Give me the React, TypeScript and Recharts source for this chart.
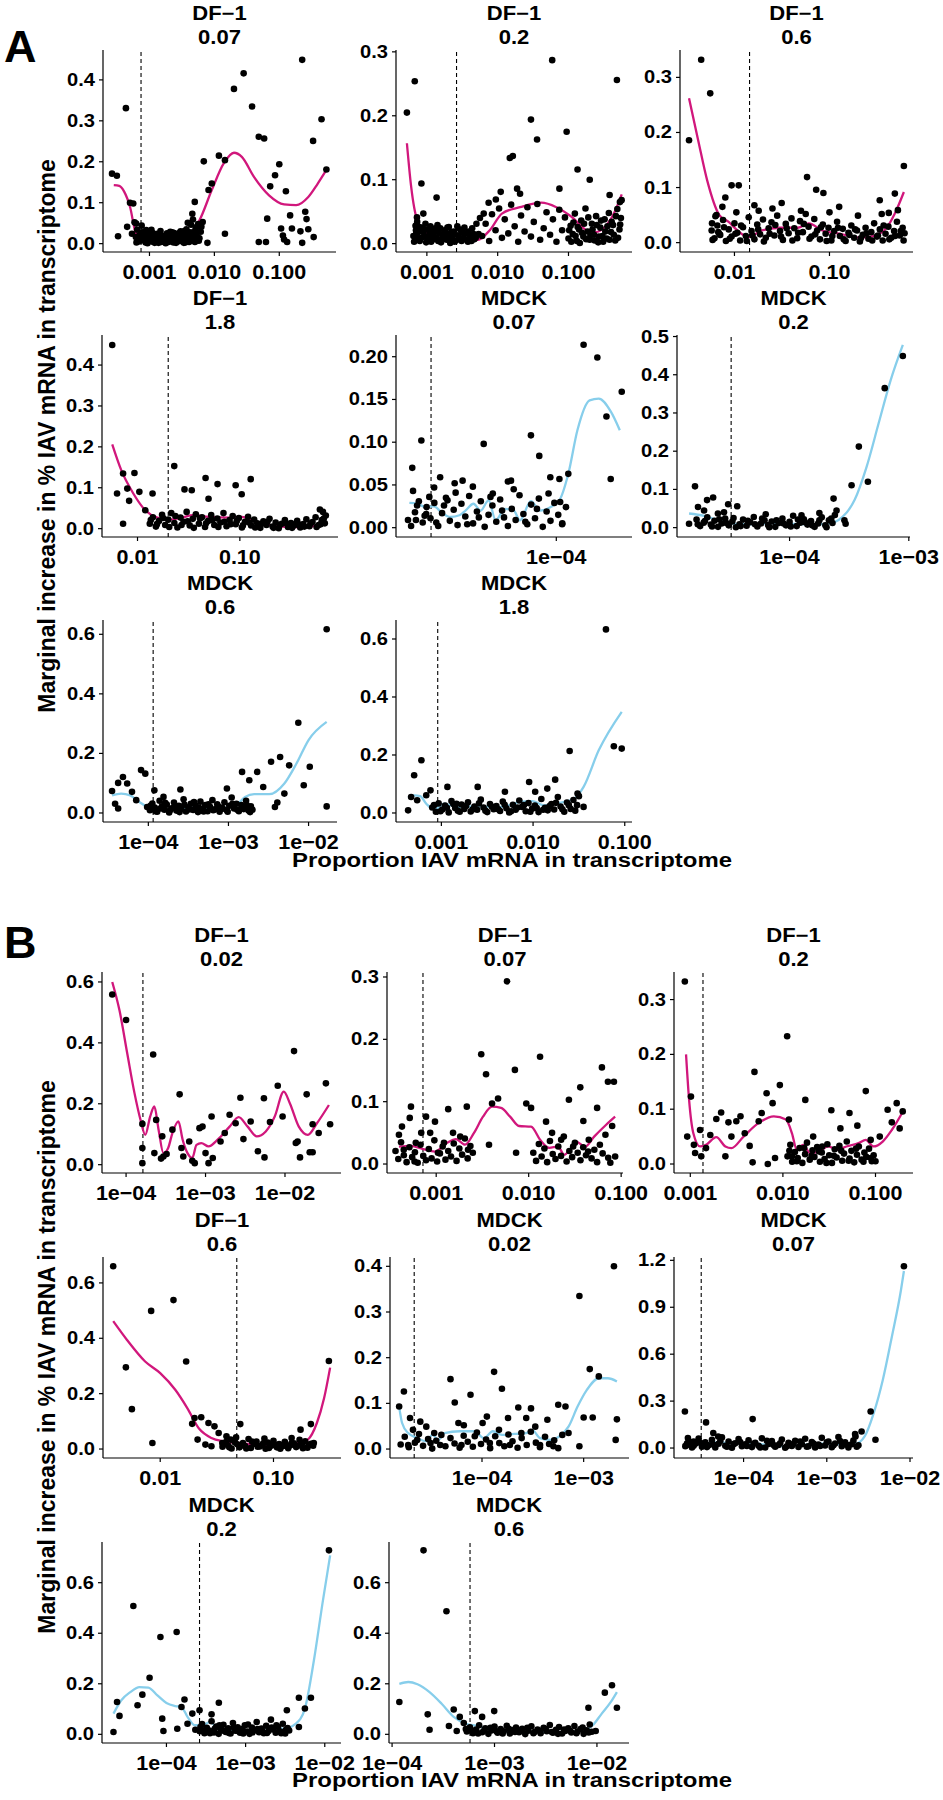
import React from 'react';
import { ComposedChart, Line, ReferenceLine, Scatter, XAxis, YAxis } from 'recharts';

document.body.style.margin = '0';

// x values are log10(proportion IAV mRNA), y values are marginal increase
const PINK = '#D1177C';
const BLUE = '#87CEEB';
const FONT = '"Liberation Sans", Arial, Helvetica, sans-serif';

const cellLines = ['DF\u22121', 'DF\u22121', 'DF\u22121', 'DF\u22121', 'MDCK', 'MDCK', 'MDCK', 'MDCK',
  'DF\u22121', 'DF\u22121', 'DF\u22121', 'DF\u22121', 'MDCK', 'MDCK', 'MDCK', 'MDCK'];
const mois = ['0.07', '0.2', '0.6', '1.8', '0.07', '0.2', '0.6', '1.8',
  '0.02', '0.07', '0.2', '0.6', '0.02', '0.07', '0.2', '0.6'];

const decTicks = [-3, -2, -1];
const decLabels = ['0.001', '0.010', '0.100'];
const twoDecTicks = [-2, -1];
const twoDecLabels = ['0.01', '0.10'];
const sciTicks = [-4, -3, -2];
const sciLabels = ['1e\u221204', '1e\u221203', '1e\u221202'];

const vlines = [-3.13, -2.581, -1.841, -1.7, -4.647, -4.49, -3.94, -3.04,
  -3.788, -3.143, -2.863, -1.324, -4.667, -4.509, -3.582, -3.239];

const xDomains: [number, number][] = [
  [-3.716, -0.126], [-3.436, -0.103], [-2.573, -0.121], [-2.347, -0.041],
  [-4.828, -3.609], [-4.944, -2.99], [-4.566, -1.645], [-3.495, -0.921],
  [-4.303, -1.295], [-3.532, -0.98], [-3.176, -0.595], [-2.505, -0.404],
  [-4.905, -2.554], [-4.836, -1.964], [-4.814, -1.795], [-4.03, -1.687],
];
const yDomains: [number, number][] = [
  [-0.0204, 0.473], [-0.0131, 0.3029], [-0.017, 0.3497], [-0.0204, 0.4735],
  [-0.0109, 0.2254], [-0.0245, 0.504], [-0.0303, 0.648], [-0.0311, 0.6655],
  [-0.0273, 0.6327], [-0.0144, 0.308], [-0.0164, 0.3503], [-0.0324, 0.6936],
  [-0.0196, 0.4204], [-0.0637, 1.2213], [-0.0343, 0.761], [-0.0343, 0.761],
];

const xTickSets = [decTicks, decTicks, twoDecTicks, twoDecTicks, [-4], [-4, -3], sciTicks, decTicks,
  sciTicks, decTicks, decTicks, twoDecTicks, [-4, -3], sciTicks, sciTicks, sciTicks];
const xLabelSets = [decLabels, decLabels, twoDecLabels, twoDecLabels, ['1e\u221204'], ['1e\u221204', '1e\u221203'], sciLabels, decLabels,
  sciLabels, decLabels, decLabels, twoDecLabels, ['1e\u221204', '1e\u221203'], sciLabels, sciLabels, sciLabels];

const y4 = [0, 0.1, 0.2, 0.3, 0.4];
const y3 = [0, 0.1, 0.2, 0.3];
const y6 = [0, 0.2, 0.4, 0.6];
const yTickSets = [y4, y3, y3, y4, [0, 0.05, 0.1, 0.15, 0.2], [0, 0.1, 0.2, 0.3, 0.4, 0.5], y6, y6,
  y6, y3, y3, y6, y4, [0, 0.3, 0.6, 0.9, 1.2], y6, y6];
const yLabelSets = [
  ['0.0', '0.1', '0.2', '0.3', '0.4'], ['0.0', '0.1', '0.2', '0.3'], ['0.0', '0.1', '0.2', '0.3'], ['0.0', '0.1', '0.2', '0.3', '0.4'],
  ['0.00', '0.05', '0.10', '0.15', '0.20'], ['0.0', '0.1', '0.2', '0.3', '0.4', '0.5'], ['0.0', '0.2', '0.4', '0.6'], ['0.0', '0.2', '0.4', '0.6'],
  ['0.0', '0.2', '0.4', '0.6'], ['0.0', '0.1', '0.2', '0.3'], ['0.0', '0.1', '0.2', '0.3'], ['0.0', '0.2', '0.4', '0.6'],
  ['0.0', '0.1', '0.2', '0.3', '0.4'], ['0.0', '0.3', '0.6', '0.9', '1.2'], ['0.0', '0.2', '0.4', '0.6'], ['0.0', '0.2', '0.4', '0.6'],
];

type P = [number, number];

const a1Points: P[] = [[-3.577,0.171],[-3.502,0.166],[-3.363,0.331],[-3.484,0.018],[-3.344,0.041],[-3.3,0.1],[-3.25,0.098],[-3.27,0.024],[-3.205,0.049],
  [-2.302,0.102],[-2.34,0.073],[-2.18,0.053],[-2.163,0.201],[-2.09,0.131],[-2.04,0.147],[-2.107,0.002],[-1.837,0.024],[-1.93,0.215],[-1.837,0.204],[-1.698,0.378],[-1.549,0.416],[-1.419,0.335],[-1.316,0.261],[-1.233,0.257],[-1.316,0.004],[-1.205,0.004],[-1.186,0.061],[-1.14,0.14],[-1.065,0.167],[-1.0,0.194],[-0.898,0.128],[-0.972,0.037],[-0.944,0.02],[-0.926,0.01],[-0.833,0.069],[-0.805,0.037],[-0.879,0.004],[-0.647,0.449],[-0.674,0.03],[-0.647,0.002],[-0.6,0.078],[-0.58,0.06],[-0.553,0.035],[-0.479,0.251],[-0.47,0.016],[-0.349,0.304],[-0.274,0.181],
  [-3.23,0.052],[-3.19,0.034],[-3.16,0.019],[-3.14,0.007],[-3.11,0.028],[-3.09,0.014],[-3.06,0.003],[-3.04,0.021],[-3.01,0.011],[-2.99,0.027],[-2.96,0.005],[-2.93,0.017],[-2.91,0.009],[-2.88,0.024],[-2.86,0.002],[-2.84,0.013],[-2.81,0.02],[-2.79,0.006],[-2.76,0.016],[-2.73,0.025],[-2.71,0.004],[-2.69,0.012],[-2.66,0.021],[-2.64,0.008],[-2.61,0.015],[-2.59,0.002],[-2.56,0.024],[-2.54,0.01],[-2.51,0.018],[-2.49,0.005],[-2.46,0.031],[-2.44,0.013],[-2.41,0.022],[-2.39,0.004],[-2.36,0.046],[-2.34,0.027],[-2.31,0.011],[-2.29,0.036],[-2.26,0.017],[-2.24,0.007],[-2.21,0.029],[-3.12,0.044],[-2.97,0.034],[-2.83,0.031],[-2.68,0.029],[-2.52,0.03],[-2.41,0.051],[-2.33,0.059],[-2.27,0.041],[-3.2,0.003],[-2.87,0.014],[-2.62,0.026],[-2.47,0.002],
  [-3.21,0.016],[-3.17,0.005],[-3.13,0.024],[-3.08,0.009],[-3.05,0.033],[-3.03,0.001],[-2.98,0.015],[-2.95,0.026],[-2.92,0.002],[-2.89,0.011],[-2.85,0.021],[-2.82,0.004],[-2.78,0.012],[-2.75,0.001],[-2.72,0.019],[-2.68,0.006],[-2.65,0.028],[-2.63,0.003],[-2.6,0.01],[-2.58,0.019],[-2.55,0.006],[-2.53,0.027],[-2.5,0.012],[-2.48,0.021],[-2.45,0.003],[-2.43,0.035],[-2.4,0.016],[-2.38,0.028],[-2.35,0.008],[-2.32,0.02],[-2.3,0.004],[-2.28,0.026],[-2.25,0.048],[-2.23,0.013],[-2.2,0.041]];
const a1Fit: P[] = [[-3.55,0.143],[-3.465,0.141],[-3.39,0.127],[-3.3,0.09],[-3.205,0.024],[-3.11,0.015],[-2.88,0.01],[-2.6,0.012],[-2.41,0.02],[-2.23,0.057],[-2.04,0.131],[-1.856,0.196],[-1.698,0.222],[-1.577,0.212],[-1.39,0.163],[-1.158,0.118],[-0.926,0.096],[-0.74,0.094],[-0.553,0.114],[-0.414,0.145],[-0.274,0.18]];

const a2Points: P[] = [[-3.282,0.205],[-3.171,0.254],[-3.077,0.094],[-2.863,0.072],[-3.137,0.034],[-3.154,0.021],[-3.137,0.008],[-3.05,0.047],
  [-2.197,0.047],[-2.128,0.064],[-2.026,0.069],[-1.957,0.081],[-1.829,0.134],[-1.786,0.137],[-1.726,0.086],[-1.684,0.078],[-1.53,0.194],[-1.444,0.163],[-1.23,0.287],[-1.128,0.086],[-1.026,0.175],[-0.872,0.116],[-0.7,0.1],[-0.316,0.256],[-0.419,0.076],[-0.274,0.065],
  [-3.19,0.012],[-3.16,0.028],[-3.12,0.018],[-3.1,0.004],[-3.07,0.025],[-3.04,0.011],[-3.02,0.031],[-2.99,0.007],[-2.96,0.019],[-2.94,0.003],[-2.91,0.014],[-2.88,0.024],[-2.86,0.009],[-2.83,0.017],[-2.8,0.002],[-2.78,0.013],[-2.75,0.021],[-2.72,0.006],[-2.7,0.015],[-2.67,0.001],[-2.64,0.011],[-2.62,0.019],[-2.59,0.005],[-2.56,0.013],[-2.53,0.022],[-2.51,0.004],[-2.48,0.009],[-2.45,0.016],[-2.42,0.003],[-2.39,0.012],[-2.36,0.024],[-2.33,0.007],[-2.3,0.031],[-2.27,0.015],[-2.25,0.04],[-3.14,0.041],[-3.0,0.022],[-2.85,0.029],[-2.69,0.026],
  [-3.18,0.003],[-3.15,0.016],[-3.11,0.026],[-3.08,0.009],[-3.05,0.018],[-3.01,0.002],[-2.97,0.013],[-2.95,0.027],[-2.92,0.006],[-2.89,0.019],[-2.84,0.004],[-2.81,0.024],[-2.77,0.008],[-2.74,0.012],[-2.71,0.025],[-2.68,0.009],[-2.65,0.018],[-2.61,0.003],[-2.57,0.027],[-2.54,0.008],[-2.5,0.017],[-2.47,0.025],[-2.44,0.006],[-2.41,0.019],[-2.37,0.004],[-2.34,0.015],[-2.31,0.009],
  [-2.22,0.012],[-2.17,0.031],[-2.12,0.004],[-2.08,0.046],[-2.03,0.021],[-1.98,0.055],[-1.94,0.009],[-1.9,0.038],[-1.85,0.016],[-1.81,0.061],[-1.76,0.027],[-1.71,0.003],[-1.67,0.044],[-1.62,0.019],[-1.58,0.057],[-1.53,0.011],[-1.49,0.034],[-1.44,0.062],[-1.4,0.006],[-1.35,0.024],[-1.31,0.049],[-1.26,0.014],[-1.22,0.038],[-1.17,0.003],[-1.13,0.053],[-1.09,0.021],[-1.05,0.041],
  [-1.0,0.008],[-0.97,0.028],[-0.94,0.015],[-0.91,0.047],[-0.88,0.004],[-0.85,0.022],[-0.82,0.036],[-0.79,0.011],[-0.76,0.055],[-0.73,0.019],[-0.7,0.006],[-0.67,0.031],[-0.64,0.014],[-0.61,0.043],[-0.58,0.002],[-0.55,0.025],[-0.52,0.012],[-0.49,0.038],[-0.46,0.008],[-0.43,0.048],[-0.4,0.018],[-0.37,0.029],[-0.34,0.005],[-0.31,0.054],[-0.28,0.022],[-0.26,0.04],[-0.25,0.068],
  [-0.99,0.021],[-0.96,0.003],[-0.93,0.033],[-0.9,0.012],[-0.87,0.026],[-0.84,0.001],[-0.81,0.017],[-0.78,0.031],[-0.75,0.007],[-0.72,0.041],[-0.69,0.013],[-0.66,0.022],[-0.63,0.005],[-0.6,0.029],[-0.57,0.011],[-0.54,0.036],[-0.51,0.003],[-0.48,0.019],[-0.45,0.027],[-0.42,0.006],[-0.39,0.034],[-0.36,0.014],[-0.33,0.043],[-0.3,0.009],[-0.27,0.03]];
const a2Fit: P[] = [[-3.282,0.157],[-3.222,0.089],[-3.137,0.037],[-3.0,0.016],[-2.79,0.008],[-2.538,0.005],[-2.282,0.006],[-2.111,0.021],[-1.94,0.047],[-1.684,0.057],[-1.385,0.064],[-1.171,0.057],[-0.957,0.042],[-0.744,0.021],[-0.615,0.018],[-0.487,0.026],[-0.359,0.047],[-0.248,0.077]];

const a3Points: P[] = [[-2.478,0.186],[-2.35,0.332],[-2.255,0.271],[-2.236,0.035],[-2.19,0.05],[-2.16,0.016],[-2.127,0.065],[-2.096,0.082],[-2.03,0.104],[-1.955,0.104],[-1.79,0.068],[-1.745,0.058],[-1.503,0.072],[-1.236,0.119],[-1.14,0.096],[-1.064,0.09],[-0.898,0.065],[-0.471,0.077],[-0.376,0.054],[-0.312,0.089],[-0.28,0.059],[-0.217,0.139],
  [-2.24,0.022],[-2.21,0.008],[-2.18,0.031],[-2.15,0.014],[-2.12,0.041],[-2.09,0.003],[-2.06,0.024],[-2.03,0.011],[-2.0,0.035],[-1.97,0.018],[-1.94,0.004],[-1.91,0.028],[-1.88,0.012],[-1.85,0.046],[-1.82,0.021],[-1.79,0.006],[-1.76,0.033],[-1.73,0.015],[-1.7,0.042],[-1.67,0.009],[-1.64,0.026],[-1.61,0.037],[-1.58,0.013],[-1.55,0.049],[-1.52,0.021],[-1.49,0.005],[-1.46,0.034],[-1.43,0.017],[-1.4,0.044],[-1.37,0.026],[-1.34,0.008],[-1.31,0.039],[-1.28,0.019],[-1.25,0.052],[-1.22,0.029],[-1.19,0.011],[-1.16,0.043],[-1.13,0.022],[-1.1,0.006],[-1.07,0.033],[-1.04,0.016],[-1.01,0.027],[-0.98,0.004],[-0.95,0.021],[-0.92,0.038],[-0.89,0.012],[-0.86,0.025],[-0.83,0.003],[-0.8,0.018],[-0.77,0.031],[-0.74,0.009],[-0.71,0.022],[-0.68,0.002],[-0.65,0.014],[-0.62,0.027],[-0.59,0.007],[-0.56,0.019],[-0.53,0.035],[-0.5,0.011],[-0.47,0.024],[-0.44,0.004],[-0.41,0.016],[-0.38,0.029],[-0.35,0.009],[-0.32,0.021],[-0.29,0.038],[-0.26,0.013],[-0.23,0.027],[-0.21,0.017],[-2.2,0.048],[-1.98,0.055],[-1.6,0.062],[-1.3,0.058],[-1.0,0.055],[-0.7,0.049],[-0.45,0.052],
  [-2.23,0.005],[-2.17,0.019],[-2.11,0.028],[-2.05,0.007],[-1.99,0.016],[-1.93,0.031],[-1.87,0.003],[-1.81,0.013],[-1.75,0.024],[-1.69,0.002],[-1.63,0.016],[-1.57,0.032],[-1.51,0.011],[-1.45,0.026],[-1.39,0.004],[-1.33,0.018],[-1.27,0.034],[-1.21,0.007],[-1.15,0.015],[-1.09,0.028],[-1.03,0.003],[-0.97,0.012],[-0.91,0.027],[-0.85,0.006],[-0.79,0.014],[-0.73,0.024],[-0.67,0.008],[-0.61,0.017],[-0.55,0.004],[-0.49,0.013],[-0.43,0.031],[-0.37,0.006],[-0.31,0.012],[-0.25,0.021],[-0.22,0.004]];
const a3Fit: P[] = [[-2.478,0.262],[-2.382,0.186],[-2.287,0.113],[-2.159,0.05],[-2.064,0.038],[-1.968,0.022],[-1.854,0.01],[-1.713,0.022],[-1.522,0.027],[-1.331,0.027],[-1.217,0.035],[-1.076,0.022],[-0.885,0.016],[-0.694,0.009],[-0.535,0.012],[-0.408,0.025],[-0.312,0.053],[-0.217,0.092]];

const a4Points: P[] = [[-2.247,0.449],[-2.2,0.086],[-2.141,0.135],[-2.141,0.012],[-2.1,0.098],[-2.082,0.068],[-2.03,0.136],[-1.982,0.09],[-1.924,0.045],[-1.853,0.086],[-1.641,0.153],[-1.541,0.096],[-1.47,0.094],[-1.335,0.124],[-1.306,0.073],[-1.218,0.109],[-1.041,0.106],[-0.982,0.084],[-0.894,0.121],[-0.218,0.047],[-0.188,0.041],
  [-1.88,0.012],[-1.85,0.028],[-1.82,0.005],[-1.79,0.019],[-1.76,0.034],[-1.73,0.009],[-1.7,0.022],[-1.67,0.038],[-1.64,0.014],[-1.61,0.003],[-1.58,0.027],[-1.55,0.017],[-1.52,0.041],[-1.49,0.008],[-1.46,0.024],[-1.43,0.035],[-1.4,0.012],[-1.37,0.028],[-1.34,0.004],[-1.31,0.019],[-1.28,0.033],[-1.25,0.009],[-1.22,0.025],[-1.19,0.015],[-1.16,0.038],[-1.13,0.006],[-1.1,0.021],[-1.07,0.031],[-1.04,0.011],[-1.01,0.026],[-0.98,0.003],[-0.95,0.017],[-0.92,0.029],[-0.89,0.008],[-0.86,0.022],[-0.83,0.013],[-0.8,0.002],[-0.77,0.018],[-0.74,0.009],[-0.71,0.024],[-0.68,0.005],[-0.65,0.015],[-0.62,0.001],[-0.59,0.012],[-0.56,0.021],[-0.53,0.004],[-0.5,0.014],[-0.47,0.008],[-0.44,0.019],[-0.41,0.003],[-0.38,0.011],[-0.35,0.023],[-0.32,0.006],[-0.29,0.016],[-0.26,0.028],[-0.23,0.009],[-0.2,0.021],[-0.17,0.013],[-0.16,0.032],
  [-1.87,0.021],[-1.81,0.011],[-1.75,0.026],[-1.69,0.004],[-1.63,0.031],[-1.57,0.009],[-1.51,0.018],[-1.45,0.002],[-1.39,0.025],[-1.33,0.013],[-1.27,0.021],[-1.21,0.004],[-1.15,0.017],[-1.09,0.011],[-1.03,0.019],[-0.97,0.008],[-0.91,0.015],[-0.85,0.003],[-0.79,0.012],[-0.73,0.017],[-0.67,0.002],[-0.61,0.009],[-0.55,0.014],[-0.49,0.002],[-0.43,0.011],[-0.37,0.005],[-0.31,0.013],[-0.25,0.004],[-0.21,0.011],[-0.18,0.025]];
const a4Fit: P[] = [[-2.247,0.206],[-2.159,0.143],[-2.041,0.086],[-1.924,0.045],[-1.806,0.027],[-1.688,0.022],[-1.571,0.027],[-1.453,0.033],[-1.306,0.029],[-1.1,0.027],[-0.982,0.029],[-0.865,0.019],[-0.688,0.008],[-0.512,0.004],[-0.335,0.004],[-0.218,0.012],[-0.159,0.027]];

const a5Points: P[] = [[-4.744,0.07],[-4.697,0.102],[-4.766,0.009],[-4.725,0.009],[-4.719,0.026],[-4.672,0.016],[-4.656,0.036],[-4.631,0.047],[-4.6,0.059],[-4.562,0.032],[-4.525,0.052],[-4.484,0.055],[-4.431,0.048],[-4.375,0.098],[-4.328,0.04],[-4.25,0.054],[-4.234,0.055],[-4.131,0.108],[-4.088,0.084],[-4.031,0.059],[-3.984,0.057],[-3.938,0.063],[-3.859,0.214],[-3.788,0.199],[-3.741,0.13],[-3.719,0.057],[-3.662,0.159],[-3.969,0.005],
  [-4.75,0.002],[-4.73,0.018],[-4.71,0.031],[-4.69,0.006],[-4.67,0.024],[-4.65,0.011],[-4.63,0.029],[-4.61,0.002],[-4.59,0.017],[-4.57,0.035],[-4.55,0.008],[-4.53,0.021],[-4.51,0.003],[-4.49,0.028],[-4.47,0.013],[-4.45,0.037],[-4.43,0.005],[-4.41,0.019],[-4.39,0.031],[-4.37,0.001],[-4.35,0.015],[-4.33,0.026],[-4.31,0.007],[-4.29,0.033],[-4.27,0.012],[-4.25,0.002],[-4.23,0.022],[-4.21,0.009],[-4.19,0.038],[-4.17,0.016],[-4.15,0.004],[-4.13,0.027],[-4.11,0.011],[-4.09,0.034],[-4.07,0.001],[-4.05,0.019],[-4.03,0.008],[-4.01,0.029],[-3.99,0.015],[-3.97,0.004],[-3.95,0.024],
  [-4.74,0.043],[-4.68,0.014],[-4.62,0.006],[-4.58,0.026],[-4.52,0.041],[-4.46,0.004],[-4.4,0.012],[-4.34,0.036],[-4.28,0.02],[-4.22,0.045],[-4.16,0.007],[-4.1,0.022],[-4.04,0.04],[-3.98,0.03]];
const a5Fit: P[] = [[-4.759,0.029],[-4.719,0.028],[-4.672,0.024],[-4.631,0.025],[-4.594,0.018],[-4.547,0.0125],[-4.5,0.0145],[-4.469,0.02],[-4.428,0.028],[-4.391,0.02],[-4.35,0.032],[-4.313,0.0086],[-4.266,0.022],[-4.219,0.02],[-4.188,0.0086],[-4.131,0.031],[-4.084,0.02],[-4.031,0.024],[-3.984,0.032],[-3.938,0.063],[-3.891,0.114],[-3.828,0.149],[-3.781,0.151],[-3.719,0.136],[-3.672,0.114]];

const a6Points: P[] = [[-4.843,0.01],[-4.793,0.108],[-4.768,0.054],[-4.717,0.045],[-4.692,0.072],[-4.641,0.079],[-4.601,0.037],[-4.515,0.061],[-4.439,0.056],[-3.631,0.076],[-3.606,0.045],[-3.54,0.019],[-3.53,0.01],[-3.48,0.111],[-3.419,0.212],[-3.343,0.12],[-3.202,0.365],[-3.05,0.449],
  [-4.78,0.021],[-4.75,0.004],[-4.72,0.013],[-4.69,0.027],[-4.66,0.008],[-4.63,0.018],[-4.6,0.002],[-4.57,0.011],[-4.54,0.024],[-4.51,0.006],[-4.48,0.016],[-4.45,0.001],[-4.42,0.009],[-4.39,0.021],[-4.36,0.005],[-4.33,0.014],[-4.3,0.028],[-4.27,0.003],[-4.24,0.011],[-4.21,0.019],[-4.18,0.007],[-4.15,0.016],[-4.12,0.002],[-4.09,0.012],[-4.06,0.024],[-4.03,0.006],[-4.0,0.015],[-3.97,0.031],[-3.94,0.004],[-3.91,0.013],[-3.88,0.022],[-3.85,0.008],[-3.82,0.017],[-3.79,0.002],[-3.76,0.011],[-3.73,0.027],[-3.7,0.006],[-3.67,0.019],[-3.64,0.012],[-3.62,0.033],[-4.55,0.04],[-4.2,0.035],[-3.9,0.032],[-3.75,0.038],
  [-4.77,0.009],[-4.71,0.017],[-4.65,0.003],[-4.59,0.022],[-4.53,0.012],[-4.47,0.025],[-4.41,0.004],[-4.35,0.018],[-4.29,0.009],[-4.23,0.024],[-4.17,0.001],[-4.11,0.019],[-4.05,0.011],[-3.99,0.003],[-3.93,0.021],[-3.87,0.014],[-3.81,0.006],[-3.75,0.019],[-3.69,0.001],[-3.65,0.024]];
const a6Fit: P[] = [[-4.843,0.037],[-4.717,0.031],[-4.591,0.019],[-4.465,0.01],[-4.288,0.0087],[-4.136,0.012],[-3.985,0.01],[-3.833,0.0087],[-3.682,0.01],[-3.556,0.028],[-3.455,0.072],[-3.354,0.159],[-3.253,0.273],[-3.152,0.386],[-3.05,0.478]];

const a7Points: P[] = [[-4.453,0.074],[-4.415,0.031],[-4.377,0.101],[-4.317,0.121],[-4.377,0.015],[-4.264,0.099],[-4.204,0.071],[-4.151,0.043],[-4.091,0.144],[-4.038,0.132],[-4.015,0.02],[-3.925,0.076],[-3.811,0.054],[-3.6,0.079],[-3.019,0.082],[-2.83,0.138],[-2.74,0.11],[-2.642,0.138],[-2.566,0.087],[-2.468,0.172],[-2.355,0.188],[-2.302,0.065],[-2.242,0.16],[-2.128,0.303],[-2.06,0.093],[-1.985,0.155],[-1.774,0.617],[-1.774,0.022],[-2.42,0.02],[-2.39,0.035],
  [-3.98,0.009],[-3.95,0.032],[-3.92,0.018],[-3.89,0.004],[-3.86,0.041],[-3.83,0.022],[-3.8,0.011],[-3.77,0.028],[-3.74,0.002],[-3.71,0.016],[-3.68,0.035],[-3.65,0.008],[-3.62,0.024],[-3.59,0.013],[-3.56,0.046],[-3.53,0.005],[-3.5,0.019],[-3.47,0.031],[-3.44,0.01],[-3.41,0.025],[-3.38,0.003],[-3.35,0.038],[-3.32,0.014],[-3.29,0.027],[-3.26,0.006],[-3.23,0.021],[-3.2,0.043],[-3.17,0.012],[-3.14,0.029],[-3.11,0.004],[-3.08,0.018],[-3.05,0.036],[-3.02,0.009],[-2.99,0.024],[-2.96,0.052],[-2.93,0.015],[-2.9,0.031],[-2.87,0.006],[-2.84,0.027],[-2.81,0.013],[-2.78,0.041],[-2.75,0.008],[-2.72,0.022],[-2.7,0.011],
  [-3.97,0.025],[-3.91,0.006],[-3.85,0.015],[-3.79,0.034],[-3.73,0.009],[-3.67,0.021],[-3.61,0.003],[-3.55,0.028],[-3.49,0.012],[-3.43,0.037],[-3.37,0.018],[-3.31,0.005],[-3.25,0.029],[-3.19,0.009],[-3.13,0.022],[-3.07,0.014],[-3.01,0.004],[-2.95,0.031],[-2.89,0.011],[-2.83,0.019],[-2.77,0.026],[-2.73,0.003]];
const a7Fit: P[] = [[-4.453,0.059],[-4.34,0.065],[-4.226,0.059],[-4.113,0.037],[-4.0,0.02],[-3.849,0.015],[-3.698,0.011],[-3.509,0.018],[-3.283,0.017],[-3.057,0.017],[-2.906,0.026],[-2.792,0.054],[-2.679,0.063],[-2.491,0.063],[-2.302,0.099],[-2.151,0.166],[-2.0,0.245],[-1.774,0.306]];

const a8Points: P[] = [[-3.363,0.009],[-3.297,0.13],[-3.218,0.182],[-3.33,0.055],[-3.264,0.044],[-3.165,0.061],[-3.119,0.078],[-2.934,0.09],[-2.835,0.032],[-2.604,0.09],[-2.307,0.073],[-2.043,0.107],[-1.977,0.073],[-1.845,0.084],[-1.759,0.115],[-1.601,0.214],[-1.515,0.067],[-1.449,0.021],[-1.205,0.633],[-1.119,0.23],[-1.033,0.222],
  [-3.1,0.019],[-3.06,0.004],[-3.03,0.033],[-2.99,0.012],[-2.96,0.026],[-2.92,0.002],[-2.89,0.041],[-2.85,0.017],[-2.82,0.008],[-2.78,0.029],[-2.75,0.014],[-2.71,0.037],[-2.68,0.005],[-2.64,0.022],[-2.61,0.011],[-2.57,0.046],[-2.54,0.019],[-2.5,0.003],[-2.47,0.031],[-2.43,0.013],[-2.4,0.024],[-2.36,0.007],[-2.33,0.039],[-2.29,0.016],[-2.26,0.002],[-2.22,0.028],[-2.19,0.011],[-2.15,0.043],[-2.12,0.021],[-2.08,0.006],[-2.05,0.034],[-2.01,0.015],[-1.98,0.026],[-1.94,0.003],[-1.91,0.048],[-1.87,0.018],[-1.84,0.009],[-1.8,0.031],[-1.77,0.012],[-1.73,0.055],[-1.7,0.022],[-1.66,0.004],[-1.63,0.036],[-1.59,0.014],[-1.56,0.045],[-1.52,0.027],[-1.5,0.058],
  [-3.08,0.027],[-3.01,0.006],[-2.94,0.018],[-2.87,0.031],[-2.8,0.004],[-2.73,0.024],[-2.66,0.012],[-2.59,0.033],[-2.52,0.008],[-2.45,0.022],[-2.38,0.013],[-2.31,0.028],[-2.24,0.006],[-2.17,0.019],[-2.1,0.027],[-2.03,0.004],[-1.96,0.017],[-1.89,0.011],[-1.82,0.024],[-1.75,0.035],[-1.68,0.013],[-1.61,0.027],[-1.54,0.008]];
const a8Fit: P[] = [[-3.363,0.053],[-3.297,0.061],[-3.231,0.058],[-3.165,0.032],[-3.079,0.012],[-2.967,0.032],[-2.835,0.021],[-2.604,0.023],[-2.34,0.021],[-2.142,0.038],[-2.01,0.041],[-1.878,0.026],[-1.713,0.035],[-1.548,0.05],[-1.449,0.09],[-1.284,0.216],[-1.033,0.349]];

const b1Points: P[] = [[-4.174,0.559],[-4.0,0.475],[-3.795,0.134],[-3.795,0.055],[-3.795,0.005],[-3.659,0.362],[-3.621,0.147],[-3.644,0.038],[-3.545,0.093],[-3.53,0.027],[-3.417,0.115],[-3.326,0.231],[-3.303,0.055],[-3.28,0.027],[-3.205,0.076],[-3.167,0.013],[-3.136,0.005],[-3.076,0.12],[-3.038,0.125],[-3.0,0.038],[-2.962,0.005],[-2.924,0.158],[-2.909,0.022],[-2.811,0.076],[-2.758,0.104],[-2.697,0.164],[-2.621,0.136],[-2.561,0.22],[-2.523,0.084],[-2.432,0.142],[-2.341,0.044],[-2.265,0.218],[-2.258,0.024],[-2.189,0.14],[-2.091,0.259],[-2.03,0.158],[-1.886,0.373],[-1.864,0.071],[-1.841,0.076],[-1.811,0.024],[-1.727,0.231],[-1.689,0.041],[-1.652,0.041],[-1.652,0.133],[-1.576,0.104],[-1.485,0.267],[-1.432,0.133],[-3.56,0.02],[-3.49,0.035]];
const b1Fit: P[] = [[-4.174,0.6],[-4.083,0.507],[-3.985,0.365],[-3.894,0.235],[-3.818,0.147],[-3.758,0.098],[-3.697,0.158],[-3.644,0.191],[-3.591,0.115],[-3.53,0.038],[-3.47,0.055],[-3.417,0.104],[-3.341,0.142],[-3.288,0.082],[-3.227,0.038],[-3.167,0.022],[-3.114,0.065],[-3.053,0.071],[-2.962,0.06],[-2.848,0.082],[-2.697,0.125],[-2.583,0.156],[-2.47,0.125],[-2.356,0.093],[-2.242,0.109],[-2.129,0.158],[-2.015,0.24],[-1.939,0.202],[-1.826,0.125],[-1.712,0.098],[-1.598,0.136],[-1.447,0.196]];

const b2Points: P[] = [[-3.403,0.047],[-3.37,0.06],[-3.351,0.023],[-3.286,0.074],[-3.273,0.092],[-3.234,0.004],[-3.221,0.034],[-3.162,0.05],[-3.11,0.076],[-3.065,0.05],[-3.013,0.068],[-2.981,0.018],[-2.916,0.034],[-2.87,0.088],[-2.818,0.05],[-2.74,0.044],[-2.669,0.092],[-2.656,0.023],[-2.604,0.018],[-2.513,0.176],[-2.461,0.144],[-2.429,0.031],[-2.396,0.097],[-2.331,0.105],[-2.234,0.293],[-2.149,0.151],[-2.136,0.018],[-2.026,0.097],[-1.974,0.09],[-1.877,0.172],[-1.812,0.068],[-1.747,0.05],[-1.649,0.039],[-1.565,0.103],[-1.519,0.028],[-1.442,0.123],[-1.409,0.069],[-1.357,0.02],[-1.26,0.09],[-1.208,0.155],[-1.143,0.132],[-1.078,0.132],[-1.097,0.061],[-1.117,0.002],[-1.065,0.012],
  [-3.44,0.021],[-3.41,0.008],[-3.38,0.035],[-3.35,0.014],[-3.32,0.003],[-3.29,0.027],[-3.26,0.011],[-3.23,0.019],[-3.2,0.002],[-3.17,0.031],[-3.14,0.013],[-3.11,0.006],[-3.08,0.024],[-3.05,0.009],[-3.02,0.038],[-2.99,0.004],[-2.96,0.017],[-2.93,0.028],[-2.9,0.007],[-2.87,0.021],[-2.84,0.012],[-2.81,0.033],[-2.78,0.005],[-2.75,0.025],[-2.72,0.015],[-2.69,0.041],[-2.66,0.009],[-2.63,0.029],
  [-1.95,0.018],[-1.92,0.005],[-1.89,0.032],[-1.86,0.012],[-1.83,0.025],[-1.8,0.003],[-1.77,0.037],[-1.74,0.016],[-1.71,0.008],[-1.68,0.028],[-1.65,0.013],[-1.62,0.044],[-1.59,0.004],[-1.56,0.021],[-1.53,0.011],[-1.5,0.034],[-1.47,0.018],[-1.44,0.006],[-1.41,0.027],[-1.38,0.014],[-1.35,0.039],[-1.32,0.009],[-1.29,0.023],[-1.26,0.003],[-1.23,0.031],[-1.2,0.017],[-1.17,0.047],[-1.14,0.01]];
const b2Fit: P[] = [[-3.403,0.028],[-3.273,0.029],[-3.143,0.024],[-3.013,0.02],[-2.883,0.034],[-2.786,0.04],[-2.688,0.031],[-2.591,0.05],[-2.494,0.076],[-2.396,0.092],[-2.299,0.09],[-2.201,0.076],[-2.104,0.061],[-1.974,0.06],[-1.877,0.039],[-1.779,0.026],[-1.682,0.028],[-1.617,0.015],[-1.552,0.023],[-1.487,0.036],[-1.39,0.028],[-1.292,0.044],[-1.162,0.063],[-1.065,0.076]];

const b3Points: P[] = [[-3.059,0.333],[-2.993,0.123],[-3.033,0.05],[-2.961,0.035],[-2.948,0.02],[-2.895,0.062],[-2.882,0.014],[-2.83,0.029],[-2.784,0.053],[-2.719,0.082],[-2.667,0.094],[-2.621,0.014],[-2.588,0.076],[-2.556,0.05],[-2.503,0.078],[-2.458,0.087],[-2.412,0.056],[-2.359,0.033],[-2.327,0.003],[-2.307,0.168],[-2.261,0.078],[-2.229,0.093],[-2.176,0.129],[-2.163,0.0],[-2.111,0.111],[-2.085,0.011],[-2.033,0.144],[-1.954,0.233],[-1.935,0.081],[-1.902,0.014],[-1.758,0.117],[-1.673,0.05],[-1.575,0.032],[-1.477,0.098],[-1.379,0.065],[-1.281,0.093],[-1.196,0.07],[-1.105,0.133],[-1.052,0.044],[-1.0,0.005],[-0.954,0.05],[-0.869,0.099],[-0.824,0.076],[-0.771,0.111],[-0.739,0.065],[-0.706,0.096],
  [-1.95,0.014],[-1.92,0.035],[-1.9,0.004],[-1.87,0.022],[-1.84,0.011],[-1.82,0.029],[-1.79,0.002],[-1.76,0.018],[-1.74,0.039],[-1.71,0.008],[-1.68,0.025],[-1.66,0.013],[-1.63,0.031],[-1.6,0.004],[-1.58,0.021],[-1.55,0.009],[-1.52,0.036],[-1.5,0.016],[-1.47,0.002],[-1.44,0.027],[-1.42,0.012],[-1.39,0.033],[-1.36,0.006],[-1.34,0.019],[-1.31,0.041],[-1.28,0.01],[-1.26,0.024],[-1.23,0.003],[-1.2,0.017],[-1.18,0.032],[-1.15,0.008],[-1.12,0.021],[-1.1,0.013],[-1.07,0.028],[-1.04,0.005],[-1.02,0.016],
  [-1.93,0.024],[-1.85,0.005],[-1.77,0.029],[-1.69,0.015],[-1.61,0.023],[-1.53,0.002],[-1.45,0.015],[-1.37,0.024],[-1.29,0.006],[-1.21,0.028],[-1.13,0.004],[-1.05,0.011]];
const b3Fit: P[] = [[-3.046,0.2],[-3.013,0.117],[-2.967,0.056],[-2.895,0.032],[-2.83,0.035],[-2.719,0.049],[-2.621,0.032],[-2.556,0.029],[-2.425,0.05],[-2.261,0.075],[-2.098,0.087],[-1.967,0.081],[-1.902,0.056],[-1.85,0.026],[-1.784,0.035],[-1.706,0.02],[-1.608,0.023],[-1.51,0.032],[-1.412,0.026],[-1.314,0.032],[-1.183,0.038],[-1.105,0.044],[-1.02,0.032],[-0.922,0.041],[-0.824,0.062],[-0.693,0.099]];

const b4Points: P[] = [[-2.415,0.66],[-2.303,0.295],[-2.25,0.144],[-2.08,0.499],[-2.069,0.022],[-1.883,0.538],[-1.771,0.316],[-1.718,0.091],[-1.697,0.112],[-1.67,0.034],[-1.638,0.115],[-1.601,0.016],[-1.574,0.094],[-1.548,0.01],[-1.521,0.082],[-1.484,0.058],[-1.452,0.022],[-1.415,0.046],[-1.378,0.034],[-1.293,0.09],[-0.761,0.07],[-0.67,0.09],[-0.644,0.022],[-0.511,0.318],
  [-1.45,0.008],[-1.42,0.025],[-1.4,0.013],[-1.37,0.002],[-1.35,0.031],[-1.32,0.017],[-1.3,0.006],[-1.27,0.022],[-1.25,0.011],[-1.22,0.036],[-1.2,0.004],[-1.17,0.019],[-1.15,0.027],[-1.12,0.009],[-1.1,0.015],[-1.07,0.001],[-1.05,0.023],[-1.02,0.012],[-1.0,0.03],[-0.97,0.006],[-0.95,0.018],[-0.92,0.01],[-0.9,0.026],[-0.87,0.003],[-0.85,0.014],[-0.82,0.021],[-0.8,0.007],[-0.77,0.033],[-0.75,0.016],[-0.72,0.028],[-0.7,0.005],[-0.67,0.019],[-0.65,0.012],[-1.33,0.042],[-1.08,0.038],[-0.84,0.04],
  [-1.44,0.018],[-1.39,0.006],[-1.34,0.024],[-1.29,0.012],[-1.24,0.002],[-1.19,0.027],[-1.14,0.008],[-1.09,0.021],[-1.04,0.004],[-0.99,0.016],[-0.94,0.001],[-0.89,0.013],[-0.84,0.022],[-0.79,0.011],[-0.74,0.003],[-0.69,0.014]];
const b4Fit: P[] = [[-2.415,0.462],[-2.293,0.394],[-2.133,0.316],[-2.0,0.274],[-1.867,0.214],[-1.761,0.148],[-1.654,0.072],[-1.548,0.04],[-1.441,0.028],[-1.309,0.022],[-1.176,0.016],[-1.043,0.012],[-0.91,0.013],[-0.777,0.022],[-0.697,0.034],[-0.617,0.094],[-0.553,0.184],[-0.5,0.294]];

const b5Points: P[] = [[-4.815,0.093],[-4.768,0.126],[-4.726,0.009],[-4.708,0.068],[-4.679,0.042],[-4.637,0.02],[-4.607,0.06],[-4.548,0.049],[-4.506,0.013],[-4.47,0.035],[-4.411,0.009],[-4.31,0.153],[-4.268,0.102],[-4.232,0.057],[-4.202,0.009],[-4.179,0.052],[-4.113,0.119],[-4.071,0.028],[-3.994,0.057],[-3.952,0.071],[-3.923,0.013],[-3.881,0.169],[-3.833,0.042],[-3.804,0.132],[-3.744,0.068],[-3.726,0.009],[-3.643,0.091],[-3.613,0.035],[-3.565,0.068],[-3.518,0.089],[-3.476,0.049],[-3.429,0.009],[-3.357,0.064],[-3.298,0.006],[-3.25,0.097],[-3.179,0.093],[-3.149,0.035],[-3.042,0.006],[-3.042,0.335],[-3.0,0.069],[-2.94,0.175],[-2.911,0.069],[-2.851,0.159],[-2.702,0.4],[-2.685,0.02],[-2.673,0.065],
  [-4.8,0.01],[-4.76,0.027],[-4.72,0.004],[-4.66,0.014],[-4.62,0.033],[-4.58,0.007],[-4.53,0.022],[-4.49,0.001],[-4.45,0.018],[-4.4,0.031],[-4.36,0.006],[-4.31,0.024],[-4.27,0.012],[-4.22,0.003],[-4.18,0.029],[-4.14,0.016],[-4.09,0.005],[-4.05,0.036],[-4.01,0.011],[-3.96,0.021],[-3.92,0.002],[-3.87,0.028],[-3.83,0.013],[-3.78,0.006],[-3.74,0.032],[-3.7,0.017],[-3.65,0.003],[-3.61,0.024],[-3.56,0.009],[-3.52,0.038],[-3.47,0.014],[-3.43,0.004],[-3.38,0.027],[-3.34,0.011],[-3.29,0.019],[-3.25,0.002],[-3.21,0.031]];
const b5Fit: P[] = [[-4.815,0.093],[-4.786,0.057],[-4.726,0.035],[-4.637,0.024],[-4.548,0.017],[-4.488,0.031],[-4.429,0.02],[-4.369,0.035],[-4.22,0.039],[-4.071,0.039],[-3.982,0.024],[-3.893,0.039],[-3.804,0.031],[-3.685,0.033],[-3.565,0.035],[-3.506,0.042],[-3.429,0.024],[-3.327,0.02],[-3.238,0.028],[-3.149,0.049],[-3.06,0.093],[-2.97,0.129],[-2.851,0.155],[-2.762,0.155],[-2.673,0.148]];

const b6Points: P[] = [[-4.705,0.234],[-4.669,0.064],[-4.655,0.021],[-4.6,0.042],[-4.451,0.164],[-4.364,0.096],[-4.305,0.074],[-3.891,0.185],[-2.655,0.074],[-2.582,0.106],[-2.473,0.234],[-2.415,0.053],[-2.073,1.162],
  [-4.7,0.012],[-4.66,0.045],[-4.62,0.003],[-4.58,0.028],[-4.54,0.061],[-4.5,0.009],[-4.46,0.036],[-4.42,0.018],[-4.38,0.052],[-4.34,0.004],[-4.3,0.027],[-4.26,0.068],[-4.22,0.014],[-4.18,0.041],[-4.14,0.002],[-4.1,0.031],[-4.06,0.057],[-4.02,0.011],[-3.98,0.024],[-3.94,0.049],[-3.9,0.006],[-3.86,0.033],[-3.82,0.015],[-3.78,0.062],[-3.74,0.003],[-3.7,0.026],[-3.66,0.044],[-3.62,0.009],[-3.58,0.019],[-3.54,0.055],[-3.5,0.002],[-3.46,0.034],[-3.42,0.013],[-3.38,0.047],[-3.34,0.007],[-3.3,0.025],[-3.26,0.059],[-3.22,0.011],[-3.18,0.038],[-3.14,0.004],[-3.1,0.022],[-3.06,0.065],[-3.02,0.016],[-2.98,0.042],[-2.94,0.005],[-2.9,0.029],[-2.86,0.071],[-2.82,0.012],[-2.78,0.036],[-2.74,0.003],[-2.7,0.024],[-2.66,0.089],[-2.62,0.018],
  [-4.68,0.028],[-4.6,0.014],[-4.52,0.033],[-4.44,0.006],[-4.36,0.021],[-4.28,0.044],[-4.2,0.009],[-4.12,0.025],[-4.04,0.038],[-3.96,0.013],[-3.88,0.027],[-3.8,0.004],[-3.72,0.046],[-3.64,0.019],[-3.56,0.031],[-3.48,0.011],[-3.4,0.027],[-3.32,0.041],[-3.24,0.008],[-3.16,0.029],[-3.08,0.013],[-3.0,0.036],[-2.92,0.018],[-2.84,0.045],[-2.76,0.021],[-2.68,0.048],[-2.64,0.009]];
const b6Fit: P[] = [[-4.691,0.074],[-4.618,0.028],[-4.509,0.021],[-4.364,0.036],[-4.145,0.032],[-3.927,0.032],[-3.709,0.021],[-3.491,0.011],[-3.273,0.021],[-3.055,0.028],[-2.836,0.025],[-2.655,0.028],[-2.545,0.074],[-2.436,0.223],[-2.327,0.435],[-2.218,0.712],[-2.109,1.009],[-2.073,1.132]];

const b7Points: P[] = [[-4.669,0.009],[-4.624,0.128],[-4.593,0.073],[-4.418,0.508],[-4.365,0.115],[-4.304,0.157],[-4.213,0.224],[-4.076,0.385],[-4.053,0.062],[-4.038,0.013],[-3.871,0.405],[-3.863,0.022],[-3.81,0.108],[-3.772,0.138],[-3.734,0.042],[-3.673,0.082],[-3.635,0.018],[-3.582,0.095],[-3.338,0.125],[-3.43,0.079],[-2.479,0.095],[-2.327,0.145],[-2.251,0.102],[-2.175,0.145],[-1.947,0.728],[-2.327,0.029],
  [-3.58,0.012],[-3.55,0.041],[-3.52,0.004],[-3.49,0.026],[-3.46,0.015],[-3.43,0.052],[-3.4,0.007],[-3.37,0.031],[-3.34,0.002],[-3.31,0.019],[-3.28,0.038],[-3.25,0.009],[-3.22,0.024],[-3.19,0.003],[-3.16,0.045],[-3.13,0.014],[-3.1,0.028],[-3.07,0.006],[-3.04,0.021],[-3.01,0.036],[-2.98,0.011],[-2.95,0.002],[-2.92,0.027],[-2.89,0.016],[-2.86,0.049],[-2.83,0.008],[-2.8,0.023],[-2.77,0.004],[-2.74,0.034],[-2.71,0.013],[-2.68,0.058],[-2.65,0.019],[-2.62,0.006],[-2.59,0.029],[-2.56,0.011],[-2.53,0.042],[-2.5,0.003],[-2.47,0.025],[-2.45,0.015],
  [-3.57,0.029],[-3.51,0.017],[-3.45,0.004],[-3.39,0.022],[-3.33,0.036],[-3.27,0.013],[-3.21,0.005],[-3.15,0.027],[-3.09,0.012],[-3.03,0.003],[-2.97,0.039],[-2.91,0.008],[-2.85,0.021],[-2.79,0.013],[-2.73,0.005],[-2.67,0.027],[-2.61,0.036],[-2.55,0.004],[-2.49,0.018]];
const b7Fit: P[] = [[-4.669,0.082],[-4.57,0.135],[-4.456,0.167],[-4.342,0.187],[-4.228,0.185],[-4.114,0.154],[-4.0,0.124],[-3.886,0.112],[-3.81,0.108],[-3.734,0.069],[-3.643,0.036],[-3.544,0.036],[-3.445,0.049],[-3.354,0.022],[-3.202,0.016],[-3.011,0.013],[-2.821,0.022],[-2.669,0.029],[-2.517,0.022],[-2.365,0.042],[-2.251,0.102],[-2.137,0.293],[-2.023,0.53],[-1.932,0.708]];

const b8Points: P[] = [[-3.929,0.128],[-3.693,0.728],[-3.652,0.079],[-3.634,0.018],[-3.469,0.487],[-3.445,0.033],[-3.398,0.098],[-3.369,0.013],[-3.339,0.069],[-3.192,0.092],[-3.121,0.069],[-3.003,0.092],[-2.083,0.105],[-2.012,0.013],[-1.923,0.165],[-1.853,0.194],[-1.805,0.105],
  [-3.3,0.045],[-3.27,0.011],[-3.24,0.028],[-3.21,0.004],[-3.18,0.019],[-3.15,0.036],[-3.12,0.008],[-3.09,0.024],[-3.06,0.002],[-3.03,0.015],[-3.0,0.031],[-2.97,0.006],[-2.94,0.021],[-2.91,0.012],[-2.88,0.034],[-2.85,0.003],[-2.82,0.017],[-2.79,0.027],[-2.76,0.008],[-2.73,0.022],[-2.7,0.001],[-2.67,0.014],[-2.64,0.032],[-2.61,0.009],[-2.58,0.019],[-2.55,0.004],[-2.52,0.026],[-2.49,0.012],[-2.46,0.037],[-2.43,0.006],[-2.4,0.018],[-2.37,0.029],[-2.34,0.003],[-2.31,0.013],[-2.28,0.024],[-2.25,0.007],[-2.22,0.033],[-2.19,0.011],[-2.16,0.021],[-2.13,0.002],[-2.1,0.016],[-2.07,0.039],[-2.05,0.01],
  [-3.28,0.021],[-3.22,0.013],[-3.16,0.003],[-3.1,0.016],[-3.04,0.026],[-2.98,0.012],[-2.92,0.003],[-2.86,0.022],[-2.8,0.009],[-2.74,0.016],[-2.68,0.026],[-2.62,0.004],[-2.56,0.014],[-2.5,0.021],[-2.44,0.009],[-2.38,0.002],[-2.32,0.019],[-2.26,0.013],[-2.2,0.004],[-2.14,0.027],[-2.08,0.007]];
const b8Fit: P[] = [[-3.929,0.2],[-3.841,0.207],[-3.752,0.198],[-3.634,0.167],[-3.516,0.121],[-3.398,0.069],[-3.28,0.042],[-3.162,0.033],[-3.044,0.018],[-2.867,0.009],[-2.69,0.009],[-2.513,0.009],[-2.336,0.009],[-2.159,0.013],[-2.041,0.036],[-1.953,0.082],[-1.864,0.128],[-1.805,0.167]];

const allPoints = [a1Points, a2Points, a3Points, a4Points, a5Points, a6Points, a7Points, a8Points,
  b1Points, b2Points, b3Points, b4Points, b5Points, b6Points, b7Points, b8Points];
const allFits = [a1Fit, a2Fit, a3Fit, a4Fit, a5Fit, a6Fit, a7Fit, a8Fit,
  b1Fit, b2Fit, b3Fit, b4Fit, b5Fit, b6Fit, b7Fit, b8Fit];

// plot-area rectangles on the page: [left, top, right, bottom]
const boxes: [number, number, number, number][] = [
  [103, 50, 336, 252], [396, 50, 632, 252], [680, 50, 913, 252],
  [102, 335, 338, 537], [396, 335, 632, 537], [677, 335, 910, 537],
  [103, 620, 337, 822], [396, 620, 632, 822],
  [102, 972, 341, 1173], [387, 972, 623, 1173], [674, 972, 913, 1173],
  [103, 1257, 341, 1458], [390, 1257, 629, 1458], [674, 1257, 913, 1458],
  [102, 1542, 341, 1743], [389, 1542, 629, 1743],
];

const AXIS_W = 70;
const AXIS_H = 46;
const PAD_T = 14;
const PAD_R = 30;

const makeXTick = (values: number[], labels: string[]) => (props: any) => {
  const { x, y, payload } = props;
  const i = values.indexOf(payload.value);
  return (
    <text transform={`translate(${x},${y + 21}) scale(1.05,1)`} textAnchor="middle"
      fontFamily={FONT} fontWeight="bold" fontSize={20.5} fill="#000">
      {labels[i]}
    </text>
  );
};

const makeYTick = (values: number[], labels: string[]) => (props: any) => {
  const { x, y, payload } = props;
  const i = values.indexOf(payload.value);
  return (
    <text transform={`translate(${x},${y + 6}) scale(1.15,1)`} textAnchor="end"
      fontFamily={FONT} fontWeight="bold" fontSize={17.5} fill="#000">
      {labels[i]}
    </text>
  );
};

const Dot = (props: any) => <circle cx={props.cx} cy={props.cy} r={3.3} fill="#000" />;

function Panel({ i }: { i: number }) {
  const [x0, y0, x1, y1] = boxes[i];
  const w = x1 - x0;
  const h = y1 - y0;
  const color = cellLines[i] === 'MDCK' ? BLUE : PINK;
  const pts = allPoints[i].map(([x, y]) => ({ x, y }));
  const fit = allFits[i].map(([x, y]) => ({ x, y }));
  const axisStyle = { stroke: '#000', strokeWidth: 1.2 };
  return (
    <div style={{ position: 'absolute', left: x0 - AXIS_W, top: y0 - PAD_T }}>
      <ComposedChart width={w + AXIS_W + PAD_R} height={h + PAD_T + AXIS_H}
        margin={{ top: PAD_T, right: PAD_R, bottom: 0, left: 0 }} style={{ overflow: 'visible' }}>
        <XAxis type="number" dataKey="x" domain={xDomains[i]} ticks={xTickSets[i]} allowDataOverflow
          interval={0} height={AXIS_H} axisLine={axisStyle} tickLine={axisStyle} tickSize={4}
          tick={makeXTick(xTickSets[i], xLabelSets[i])} />
        <YAxis type="number" dataKey="y" domain={yDomains[i]} ticks={yTickSets[i]} allowDataOverflow
          interval={0} width={AXIS_W} axisLine={axisStyle} tickLine={axisStyle} tickSize={4} tickMargin={4}
          tick={makeYTick(yTickSets[i], yLabelSets[i])} />
        <ReferenceLine x={vlines[i]} stroke="#000" strokeWidth={1.1} strokeDasharray="4 3" />
        <Scatter data={pts} shape={Dot} isAnimationActive={false} />
        <Line data={fit} dataKey="y" type="monotone" stroke={color} strokeWidth={2.3}
          dot={false} activeDot={false} isAnimationActive={false} />
      </ComposedChart>
    </div>
  );
}

export default function App() {
  const titleProps = { fontFamily: FONT, fontWeight: 'bold' as const, fontSize: 19.5, fill: '#000', textAnchor: 'middle' as const };
  return (
    <div style={{ position: 'relative', width: 943, height: 1800, background: '#fff', overflow: 'hidden' }}>
      {boxes.map((_, i) => <Panel key={i} i={i} />)}
      <svg width={943} height={1800} style={{ position: 'absolute', left: 0, top: 0, pointerEvents: 'none' }}>
        <text x={4} y={62} fontFamily={FONT} fontWeight="bold" fontSize={45} fill="#000">A</text>
        <text x={4} y={958} fontFamily={FONT} fontWeight="bold" fontSize={45} fill="#000">B</text>
        {boxes.map(([x0, y0, x1], i) => {
          const cx = (x0 + x1) / 2;
          return (
            <g key={i}>
              <text transform={`translate(${cx},${y0 - 30}) scale(1.13,1)`} {...titleProps}>{cellLines[i]}</text>
              <text transform={`translate(${cx},${y0 - 6}) scale(1.13,1)`} {...titleProps}>{mois[i]}</text>
            </g>
          );
        })}
        {[436, 1357].map((cy) => (
          <text key={cy} transform={`translate(55,${cy}) rotate(-90)`} textAnchor="middle"
            fontFamily={FONT} fontWeight="bold" fontSize={23} fill="#000">
            Marginal increase in % IAV mRNA in transcriptome
          </text>
        ))}
        {[867, 1787].map((by) => (
          <text key={by} x={512} y={by} textAnchor="middle" textLength={440} lengthAdjust="spacingAndGlyphs"
            fontFamily={FONT} fontWeight="bold" fontSize={19.5} fill="#000">
            Proportion IAV mRNA in transcriptome
          </text>
        ))}
      </svg>
    </div>
  );
}
